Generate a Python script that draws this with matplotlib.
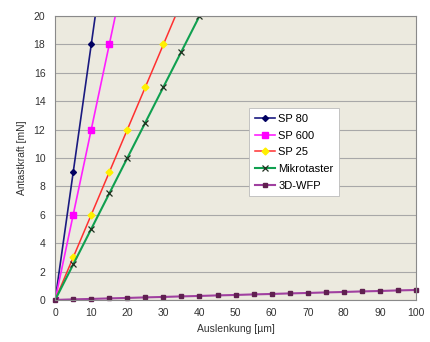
import matplotlib.pyplot as plt

plt.rcParams['font.family'] = ['Liberation Sans', 'DejaVu Sans']

# data
x_sp80 = [0, 5, 10, 15]
y_sp80 = [0, 9, 18, 27]
x_sp600 = [0, 5, 10, 15, 20]
y_sp600 = [0, 6, 12, 18, 24]
x_sp25 = [0, 5, 10, 15, 20, 25, 30, 35]
y_sp25 = [0, 3, 6, 9, 12, 15, 18, 21]
x_mikro = [0, 5, 10, 15, 20, 25, 30, 35, 40]
y_mikro = [0, 2.5, 5, 7.5, 10, 12.5, 15, 17.5, 20]
x_wfp = [0, 5, 10, 15, 20, 25, 30, 35, 40, 45, 50, 55, 60, 65, 70, 75, 80,
         85, 90, 95, 100]
y_wfp = [0, 0.04, 0.07, 0.11, 0.14, 0.18, 0.21, 0.25, 0.28, 0.32, 0.35, 0.39,
         0.42, 0.46, 0.49, 0.53, 0.56, 0.6, 0.63, 0.67, 0.7]

fig = plt.figure(figsize=(4.31, 3.42), dpi=100)
ax = fig.add_axes([0.128, 0.123, 0.837, 0.830])
ax.set_facecolor('#ECEADF')

ax.plot(x_sp80, y_sp80, color='#1A1A80', lw=1.2, marker='D', ms=3,
        mfc='#000060', mec='#000060', label='SP 80')
ax.plot(x_sp600, y_sp600, color='#FF20FF', lw=1.2, marker='s', ms=4.5,
        mfc='#FF00FF', mec='#FF00FF', label='SP 600')
ax.plot(x_sp25, y_sp25, color='#FF3030', lw=1.1, marker='D', ms=3.5,
        mfc='#FFF000', mec='#FFF000', label='SP 25')
ax.plot(x_mikro, y_mikro, color='#10A050', lw=1.5, marker='x', ms=4,
        mec='#203020', mew=0.9, label='Mikrotaster')
ax.plot(x_wfp, y_wfp, color='#A040A0', lw=1.5, marker='s', ms=2.8,
        mfc='#602050', mec='#602050', label='3D-WFP', clip_on=False)

ax.set_xlim(0, 100)
ax.set_ylim(0, 20)
ax.set_xticks(range(0, 101, 10))
ax.set_yticks(range(0, 21, 2))
ax.yaxis.grid(True, color='#A8A8A8', lw=0.8)
ax.set_axisbelow(True)
for s in ax.spines.values():
    s.set_color('#8A8A8A')
    s.set_linewidth(0.8)
ax.tick_params(labelsize=7.5, colors='#333333', length=0)
ax.tick_params(axis='x', pad=6)
ax.tick_params(axis='y', pad=7)
ax.set_xlabel('Auslenkung [µm]', fontsize=7.5, color='#333333', labelpad=4)
ax.set_ylabel('Antastkraft [mN]', fontsize=7.5, color='#333333', labelpad=5)

leg = ax.legend(loc='upper left', bbox_to_anchor=(0.538, 0.675), fontsize=8,
                fancybox=False, framealpha=1, edgecolor='#BBBBBB',
                handlelength=1.8, handletextpad=0.3, borderpad=0.5,
                labelspacing=0.6, borderaxespad=0)
leg.get_frame().set_linewidth(0.6)

plt.savefig('out.png', dpi=100)
